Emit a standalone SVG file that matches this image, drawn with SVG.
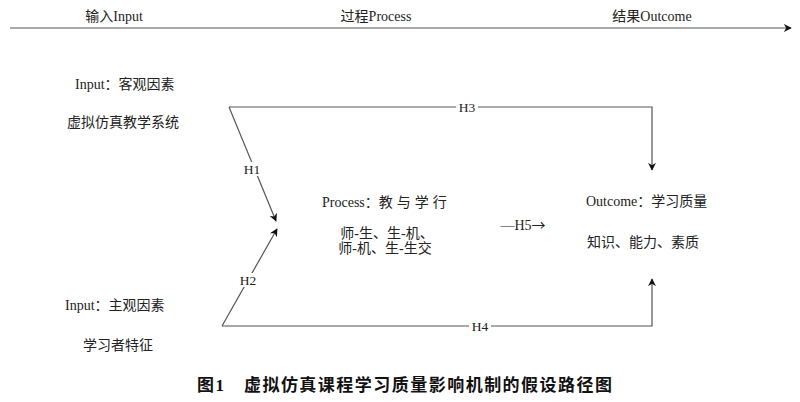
<svg xmlns="http://www.w3.org/2000/svg" width="800" height="402" viewBox="0 0 800 402">
<defs>
<style>
text{font-family:"Liberation Serif","Noto Sans CJK SC",serif;font-size:14px;fill:#222}
.ln{fill:none;stroke:#555;stroke-width:1.2}
.lbl{text-anchor:middle}
.h{font-size:13.5px}
.bg{fill:#fff}
.cap{font-size:17px;font-weight:bold;fill:#111}
.cjk{font-family:"Noto Sans CJK SC",sans-serif}
</style>
<marker id="ah" viewBox="0 0 10 10" refX="9" refY="5" markerWidth="8" markerHeight="8" orient="auto" markerUnits="userSpaceOnUse">
<path d="M0,0 L10,5 L0,10 L3,5 z" fill="#111"/>
</marker>
</defs>
<rect width="800" height="402" fill="#fff"/>
<g id="axis">
<line class="ln" x1="10" y1="28" x2="791" y2="28" marker-end="url(#ah)"/>
<text class="lbl" x="114" y="21">输入Input</text>
<text class="lbl" x="376" y="21">过程Process</text>
<text class="lbl" x="652" y="21">结果Outcome</text>
</g>
<g id="connectors">
<polyline class="ln" points="229,107 652,107 652,170" marker-end="url(#ah)"/>
<line class="ln" x1="229" y1="107" x2="276" y2="221" marker-end="url(#ah)"/>
<line class="ln" x1="222" y1="326" x2="277" y2="229" marker-end="url(#ah)"/>
<polyline class="ln" points="222,326 652,326 652,279" marker-end="url(#ah)"/>
<rect class="bg" x="456" y="100" width="22" height="14"/>
<text class="lbl h" x="467" y="112">H3</text>
<rect class="bg" x="241" y="162" width="22" height="14"/>
<text class="lbl h" x="252" y="174">H1</text>
<rect class="bg" x="237" y="273" width="22" height="14"/>
<text class="lbl h" x="248" y="285">H2</text>
<rect class="bg" x="469" y="319" width="22" height="14"/>
<text class="lbl h" x="480" y="331">H4</text>
</g>
<g id="input-objective">
<text x="75" y="89">Input：客观因素</text>
<text x="67" y="127">虚拟仿真教学系统</text>
</g>
<g id="input-subjective">
<text x="65" y="310">Input：主观因素</text>
<text x="83" y="350">学习者特征</text>
</g>
<g id="process">
<text x="322" y="207">Process：<tspan letter-spacing="4">教与学行</tspan></text>
<text class="lbl" x="387" y="238">师-生、生-机、</text>
<text class="lbl" x="385" y="253">师-机、生-生交</text>
</g>
<g id="h5">
<text class="lbl" x="523" y="230">—H5<tspan class="cjk">→</tspan></text>
</g>
<g id="outcome">
<text x="586" y="206">Outcome：学习质量</text>
<text x="587" y="247">知识、能力、素质</text>
</g>
<g id="caption">
<text class="cap" x="197" y="391" textLength="415" lengthAdjust="spacing">图1　虚拟仿真课程学习质量影响机制的假设路径图</text>
</g>
</svg>
